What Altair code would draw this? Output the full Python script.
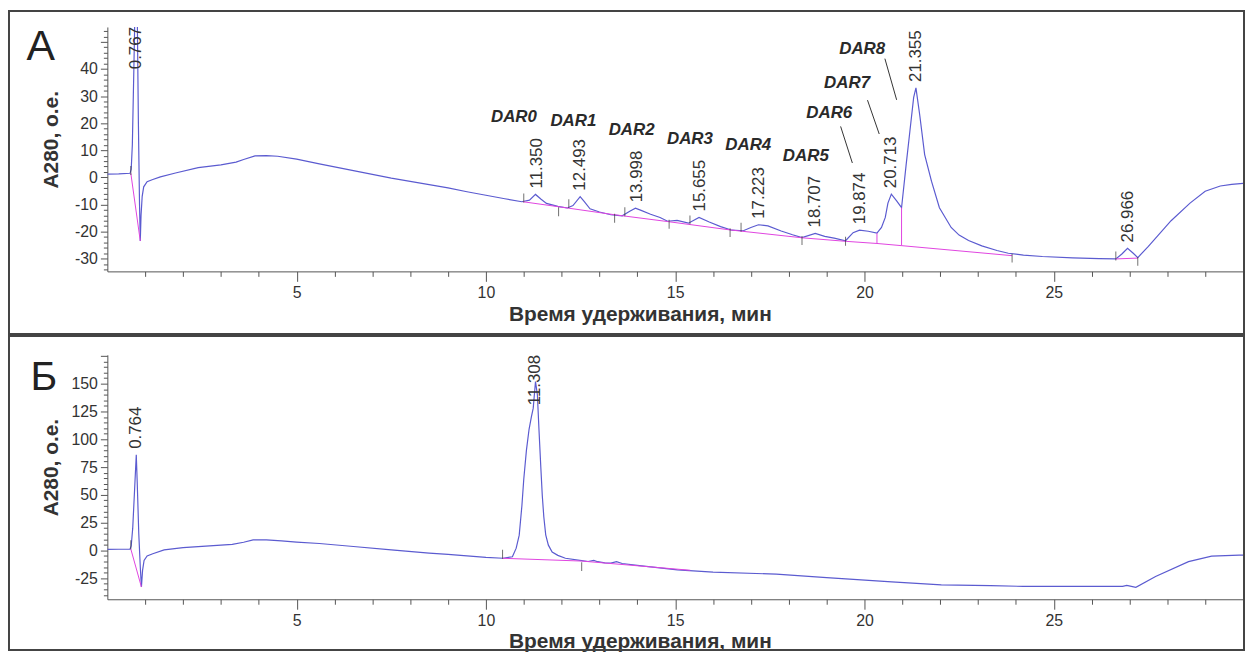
import altair as alt
import pandas as pd

FONT = "Liberation Sans"
LINE = "#5b5bd0"
BASE = "#e044e0"
INK = "#333333"
W = 1143
H = 246

# ---------------- Panel A (ADC) ----------------
a_time = [0.0, 0.3, 0.6, 0.63, 0.66, 0.70, 0.74, 0.767, 0.79, 0.82, 0.85, 0.87, 0.89, 0.92, 0.96,
          1.05, 1.2, 1.4, 1.8, 2.4, 3.0, 3.4, 3.6, 3.9, 4.2, 4.5, 5.0, 5.6, 6.5, 7.5, 8.5, 9.0,
          9.5, 10.0, 10.5, 10.95, 11.15, 11.31, 11.45, 11.6, 11.9, 12.15, 12.3, 12.49, 12.6,
          12.75, 13.0, 13.3, 13.6, 13.8, 13.95, 14.1, 14.35, 14.6, 14.8, 15.05, 15.35, 15.63,
          15.9, 16.2, 16.5, 16.8, 17.0, 17.2, 17.45, 17.8, 18.1, 18.35, 18.7, 18.95, 19.2, 19.5,
          19.7, 19.87, 20.1, 20.33, 20.45, 20.55, 20.62, 20.71, 20.85, 20.98, 21.1, 21.2, 21.3,
          21.36, 21.46, 21.59, 21.77, 21.98, 22.29, 22.5, 22.75, 23.1, 23.5, 23.8, 24.2, 24.7,
          25.5, 26.2, 26.64, 26.8, 26.95, 27.1, 27.22, 27.5, 28.1, 28.6, 29.0, 29.4, 29.7, 30.0]
a_signal = [1.2, 1.3, 1.5, 3.0, 12, 40, 70, 85, 60, 20, -10, -23.5, -14, -7, -3.5,
            -1.6, -0.8, 0.2, 1.6, 3.6, 4.6, 5.6, 6.6, 7.9, 8.0, 7.8, 6.7, 5.0, 2.5, -0.3, -2.7, -3.9,
            -5.3, -6.6, -7.9, -9.0, -8.4, -6.3, -8.0, -9.6, -10.7, -11.3, -10.4, -7.1, -9.0,
            -11.6, -12.8, -13.8, -14.2, -12.5, -11.4, -12.2, -13.6, -14.8, -16.2, -15.9, -16.9, -14.8,
            -16.5, -18.2, -19.5, -19.7, -18.5, -17.5, -17.9, -19.8, -21.2, -22.2, -20.7, -21.8, -22.4, -23.4,
            -20.4, -19.5, -19.9, -20.6, -18.5, -14.8, -9.5, -6.2, -8.7, -11.2, 4.5, 17, 29.5,
            33, 23, 8.4, -1.4, -11.2, -18.5, -21.3, -23.3, -25.3, -27.0, -28.0, -28.7, -29.2,
            -29.7, -30.0, -30.1, -28.3, -26.2, -28.0, -29.6, -25.5, -16.0, -9.5, -5.1, -3.2, -2.6, -2.2]

a_base_seg = ["s0", "s0", "s1", "s1", "s1", "s1", "s1", "s1", "s1", "s1", "s1", "s1", "s2", "s2"]
a_base_t = [0.62, 0.87, 10.98, 12.0, 13.4, 14.85, 16.45, 18.35, 19.5, 20.33, 20.98, 23.9, 26.64, 27.22]
a_base_v = [1.5, -23.5, -9.0, -11.0, -13.8, -16.4, -19.4, -22.3, -23.6, -24.4, -25.2, -28.9, -30.1, -29.8]

a_mark_t = [0.62, 11.0, 11.92, 12.19, 13.4, 13.67, 14.84, 15.39, 16.45, 16.74, 18.35, 19.5, 23.9, 26.64, 27.22]
a_mark_v = [2.5, -7.6, -12.7, -9.7, -15.1, -12.7, -17.3, -15.7, -20.4, -18.4, -23.3, -23.6, -29.8, -29.0, -31.0]

a_drop_t = [20.33, 20.98]
a_drop_top = [-20.6, -11.2]
a_drop_bottom = [-24.4, -25.2]

a_peak_labels = ["11.350", "12.493", "13.998", "15.655", "17.223", "18.707", "19.874", "20.713", "21.355", "26.966"]
a_peak_heights = [-6.3, -7.1, -11.4, -14.8, -17.5, -20.7, -19.5, -6.2, 33, -26.2]
a_top_labels = ["0.767"]

dar_names = ["DAR0", "DAR1", "DAR2", "DAR3", "DAR4", "DAR5", "DAR6", "DAR7", "DAR8"]
dar_t = [10.74, 12.31, 13.85, 15.39, 16.93, 18.45, 19.07, 19.54, 19.94]
dar_v = [22.4, 20.9, 17.6, 14.0, 12.1, 7.7, 23.9, 34.9, 47.3]
lead_t = [19.37, 20.08, 20.54]
lead_v = [18.8, 28.5, 43.8]
lead_t2 = [19.68, 20.39, 20.85]
lead_v2 = [5.3, 16.0, 28.6]

# ---------------- Panel B (antibody) ----------------
b_time = [0.0, 0.3, 0.6, 0.63, 0.67, 0.72, 0.764, 0.79, 0.83, 0.87, 0.9, 0.93, 0.97, 1.05, 1.2,
          1.5, 2.0, 2.6, 3.3, 3.6, 3.85, 4.2, 4.6, 5.0, 5.6, 6.5, 7.5, 8.5, 9.0, 9.5, 10.0, 10.45,
          10.7, 10.8, 10.88, 10.95, 11.0, 11.07, 11.14, 11.2, 11.25, 11.31, 11.36, 11.4, 11.45,
          11.49, 11.53, 11.58, 11.65, 11.75, 11.9, 12.1, 12.53, 12.7, 12.85, 12.95, 13.14, 13.3,
          13.45, 13.6, 14.0, 15.06, 16.0, 17.67, 19.0, 20.72, 22.03, 23.33, 24.2, 26.0, 26.82,
          26.93, 27.05, 27.17, 27.69, 28.56, 29.17, 29.9, 30.0]
b_signal = [0.9, 1.0, 1.2, 4, 20, 55, 86, 60, 15, -15, -33, -18, -9, -5, -3.0,
            0.5, 2.4, 3.8, 5.4, 7.3, 9.5, 9.4, 8.5, 7.5, 6.2, 3.5, 0.5, -2.4, -3.6, -5.0, -6.3, -7.1,
            -5.7, 2, 13.7, 40, 64, 90, 109, 120, 128, 152, 140, 110, 75,
            49, 30, 14, 4.7, -1.5, -4.5, -7.1, -9.2, -10.0, -9.0, -10.2, -11.2, -11.5,
            -10.2, -11.8, -13.5, -17.6, -19.5, -21.4, -24.5, -28.3, -31.0, -31.8, -32.4, -32.4, -32.4,
            -31.5, -32.4, -33.3, -23.5, -10.1, -5.1, -4.2, -4.2]

b_base_seg = ["s0", "s0", "s1", "s1", "s1"]
b_base_t = [0.62, 0.9, 10.44, 12.53, 15.4]
b_base_v = [1.2, -33, -7.1, -9.6, -17.9]

b_mark_t = [0.62, 10.44, 12.53]
b_mark_v = [5.0, -3.5, -14.6]

b_peak_labels = ["0.764"]
b_peak_heights = [86]
b_top_labels = ["11.308"]


def make_axis_x():
    return alt.Axis(
        values=list(range(1, 30)),
        labelExpr="datum.value % 5 === 0 ? '' + datum.value : ''",
        tickSize={"condition": {"test": "datum.value % 5 === 0", "value": 10}, "value": 5},
        labelPadding=3, labelFontSize=16, labelColor=INK, labelFont=FONT,
        labelOverlap=False, labelFlush=False, grid=False,
        domainColor="#555", tickColor="#555", domainWidth=1, tickWidth=1,
        title="Время удерживания, мин", titleFont=FONT, titleFontSize=21,
        titleFontWeight="bold", titleColor=INK, titleX=536, titleY=49,
        titleAlign="center", titleBaseline="alphabetic",
    )


def make_axis_y(lo, hi, minor, major, label_max):
    return alt.Axis(
        values=list(range(lo, hi + 1, minor)),
        labelExpr="datum.value %% %d === 0 && datum.value <= %d ? '' + datum.value : ''" % (major, label_max),
        tickSize={"condition": {"test": "datum.value %% %d === 0" % major, "value": 7}, "value": 4},
        labelPadding=3, labelFontSize=16, labelColor=INK, labelFont=FONT,
        labelOverlap=False, labelFlush=False, grid=False,
        domainColor="#555", tickColor="#555", domainWidth=1, tickWidth=1,
        title="A280, о.е.", titleFont=FONT, titleFontSize=21, titleFontWeight="bold",
        titleColor=INK, titleX=-56, titleY=113, titleAngle=270,
        titleAlign="center", titleBaseline="middle",
    )


def make_panel(time, signal, ydom, ylo, yhi, yminor, ymajor, label_max,
               base_seg, base_t, base_v, mark_t, mark_v,
               peak_labels, peak_heights, top_labels,
               letter, letter_size, letter_x, letter_y, frame_top, frame_bottom,
               drops=None, dars=None, leads=None):
    xs = alt.Scale(domain=[0, 30], nice=False, zero=False)
    ys = alt.Scale(domain=ydom, nice=False, zero=False)
    X = alt.X("t:Q", scale=xs, axis=make_axis_x())
    Y = alt.Y("v:Q", scale=ys, axis=make_axis_y(ylo, yhi, yminor, ymajor, label_max))
    one = pd.DataFrame({"k": [0]})

    frame = alt.Chart(one).mark_rect(fillOpacity=0, stroke="#444", strokeWidth=2).encode(
        x=alt.value(-99), x2=alt.value(W + 1), y=alt.value(frame_top), y2=alt.value(frame_bottom)
    )
    curve = alt.Chart(pd.DataFrame({"t": time, "v": signal})).mark_line(
        color=LINE, strokeWidth=1.2, clip=True
    ).encode(x=X, y=Y, order="t:Q")
    base = alt.Chart(pd.DataFrame({"seg": base_seg, "t": base_t, "v": base_v})).mark_line(
        color=BASE, strokeWidth=1, clip=True
    ).encode(x=X, y=Y, detail="seg:N")
    marks = alt.Chart(pd.DataFrame({"t": mark_t, "v": mark_v})).mark_tick(
        orient="vertical", size=9, thickness=1, color="#333"
    ).encode(x=X, y=Y)

    lab = alt.Chart(pd.DataFrame({
        "t": [float(s) for s in peak_labels], "v": peak_heights, "label": peak_labels
    })).mark_text(
        angle=270, align="left", baseline="middle", dx=6, fontSize=17, color=INK, font=FONT
    ).encode(x=X, y=Y, text="label:N")

    top = alt.Chart(pd.DataFrame({
        "t": [float(s) for s in top_labels], "v": [ydom[1]] * len(top_labels), "label": top_labels
    })).mark_text(
        angle=270, align="right", baseline="middle", dx=0, fontSize=17, color=INK, font=FONT
    ).encode(x=X, y=Y, text="label:N")

    let = alt.Chart(one).mark_text(
        fontSize=letter_size, font=FONT, color="#222", align="center", baseline="alphabetic"
    ).encode(x=alt.value(letter_x), y=alt.value(letter_y), text=alt.value(letter))

    layers = [curve, frame, base, marks, lab, top, let]

    if drops is not None:
        dt, dtop, dbot = drops
        layers.append(alt.Chart(pd.DataFrame({"t": dt, "v": dtop, "v2": dbot})).mark_rule(
            color=BASE, strokeWidth=1
        ).encode(x=X, y=Y, y2="v2:Q"))
    if dars is not None:
        names, dt, dv = dars
        layers.append(alt.Chart(pd.DataFrame({"t": dt, "v": dv, "name": names})).mark_text(
            fontSize=17, fontStyle="italic", fontWeight="bold", color="#2a2a2a", font=FONT,
            align="center", baseline="middle"
        ).encode(x=X, y=Y, text="name:N"))
    if leads is not None:
        lt, lv, lt2, lv2 = leads
        layers.append(alt.Chart(pd.DataFrame({"t": lt, "v": lv, "t2": lt2, "v2": lv2})).mark_rule(
            color="#333", strokeWidth=1
        ).encode(x=X, y=Y, x2="t2:Q", y2="v2:Q"))

    return alt.layer(*layers).properties(width=W, height=H)


panel_a = make_panel(
    a_time, a_signal, [-34.7, 55.5], -34, 54, 2, 10, 40,
    a_base_seg, a_base_t, a_base_v, a_mark_t, a_mark_v,
    a_peak_labels, a_peak_heights, a_top_labels,
    "А", 43, -67, 33, -16, 309,
    drops=(a_drop_t, a_drop_top, a_drop_bottom),
    dars=(dar_names, dar_t, dar_v),
    leads=(lead_t, lead_v, lead_t2, lead_v2),
)
panel_b = make_panel(
    b_time, b_signal, [-44, 176], -40, 175, 5, 25, 150,
    b_base_seg, b_base_t, b_base_v, b_mark_t, b_mark_v,
    b_peak_labels, b_peak_heights, b_top_labels,
    "Б", 41, -64, 35, -19, 297,
)

chart = alt.vconcat(panel_a, panel_b, spacing=0).properties(
    padding=0, background="white"
).configure(font=FONT).configure_view(strokeWidth=0)

chart.save("out.html", embed_options={"renderer": "svg", "actions": False})
